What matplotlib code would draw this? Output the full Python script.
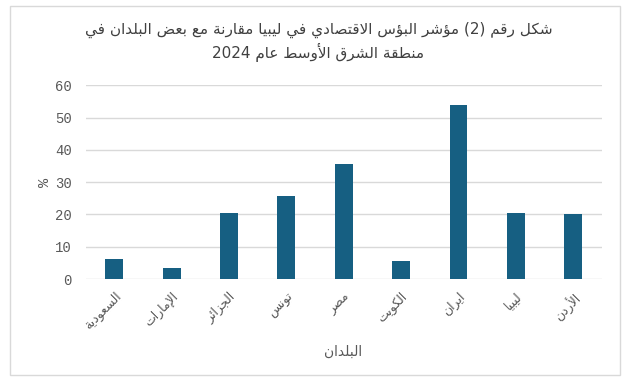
import re

import matplotlib
matplotlib.use("Agg")
import matplotlib.pyplot as plt
from matplotlib.patches import Rectangle

# data
countries = ["السعودية", "الإمارات", "الجزائر", "تونس", "مصر", "الكويت", "ايران", "ليبيا", "الأردن"]
misery_index = [6.2, 3.4, 20.4, 25.7, 35.6, 5.6, 53.9, 20.4, 20.1]
y_ticks = [0, 10, 20, 30, 40, 50, 60]

title_lines = ["شكل رقم (2) مؤشر البؤس الاقتصادي في ليبيا مقارنة مع بعض البلدان في",
               "منطقة الشرق الأوسط عام 2024"]
x_title = "البلدان"
y_title = "%"

BAR_COLOR = "#165f82"
GRID_COLOR = "#d9d9d9"
TEXT_COLOR = "#595959"
TITLE_COLOR = "#404040"

# --- minimal arabic shaping (matplotlib has no bidi / joining support) ---
LETTERS = "ءآأؤإئابةتثجحخدذرزسشصضطظعغفقكلمنهوىي"
DUAL = set("ئبتثجحخسشصضطظعغفقكلمنهي")
FORMS = {}
code = 0xFE80
for ch in LETTERS:
    n = 1 if ch == "ء" else (4 if ch in DUAL else 2)
    forms = [chr(code + k) for k in range(n)]
    while len(forms) < 4:
        forms.append(forms[-1] if len(forms) < 2 else forms[len(forms) - 2])
    FORMS[ch] = forms  # isolated, final, initial, medial
    code += n
LAM_ALEF = {"آ": 0xFEF5, "أ": 0xFEF7, "إ": 0xFEF9, "ا": 0xFEFB}


def shape(text):
    items = []
    i = 0
    while i < len(text):
        c = text[i]
        if c == "ل" and i + 1 < len(text) and text[i + 1] in LAM_ALEF:
            items.append(("LA", text[i + 1]))
            i += 2
        else:
            items.append(c)
            i += 1

    def joinable(it):
        return isinstance(it, tuple) or (it in FORMS and it != "ء")

    def dual(it):
        return not isinstance(it, tuple) and it in DUAL

    out = []
    for k, it in enumerate(items):
        prev = items[k - 1] if k > 0 else None
        nxt = items[k + 1] if k + 1 < len(items) else None
        jp = prev is not None and dual(prev) and joinable(it)
        jn = dual(it) and nxt is not None and joinable(nxt)
        if isinstance(it, tuple):
            out.append(chr(LAM_ALEF[it[1]] + (1 if jp else 0)))
        elif it in FORMS:
            f = FORMS[it]
            if jp and jn:
                out.append(f[3])
            elif jp:
                out.append(f[1])
            elif jn:
                out.append(f[2])
            else:
                out.append(f[0])
        else:
            out.append(it)
    vis = "".join(out)[::-1]
    vis = re.sub(r"[0-9]+", lambda m: m.group(0)[::-1], vis)
    vis = vis.translate(str.maketrans("()", ")("))
    return vis


fig = plt.figure(figsize=(6.33, 3.81), dpi=100)
ax = fig.add_axes([0.1354, 0.2677, 0.8152, 0.5083])

# chart border
fig.patches.append(Rectangle((10 / 633, 1 - 375 / 381), 610 / 633, 369 / 381,
                             transform=fig.transFigure, fill=False,
                             edgecolor=GRID_COLOR, linewidth=1))

x = range(len(countries))
ax.bar(x, misery_index, width=0.31, color=BAR_COLOR, zorder=3)

ax.set_xlim(-0.5, len(countries) - 0.5)
ax.set_ylim(0, 60)
ax.set_yticks(y_ticks)
ax.set_yticklabels([str(v) for v in y_ticks], family="Liberation Mono",
                   fontsize=10, color=TEXT_COLOR)
ax.set_xticks(list(x))
ax.set_xticklabels([shape(c) for c in countries], rotation=45, ha="right",
                   rotation_mode="anchor", fontsize=9, color=TEXT_COLOR,
                   family="DejaVu Sans")
ax.tick_params(axis="y", length=0, pad=10)
ax.tick_params(axis="x", length=0, pad=8)
ax.grid(axis="y", color=GRID_COLOR, linewidth=1, zorder=0)
for s in ax.spines.values():
    s.set_visible(False)

ax.set_ylabel(y_title, family="Liberation Mono", fontsize=11,
              color=TEXT_COLOR, labelpad=2)
ax.set_xlabel(shape(x_title), fontsize=10, color=TEXT_COLOR)
ax.xaxis.set_label_coords(0.4986, -0.34)

fig.text(0.504, 1 - 30 / 381, shape(title_lines[0]), ha="center", va="center",
         fontsize=11, color=TITLE_COLOR)
fig.text(0.502, 1 - 52 / 381, shape(title_lines[1]), ha="center", va="center",
         fontsize=11, color=TITLE_COLOR)

fig.savefig("out.png", dpi=100)
